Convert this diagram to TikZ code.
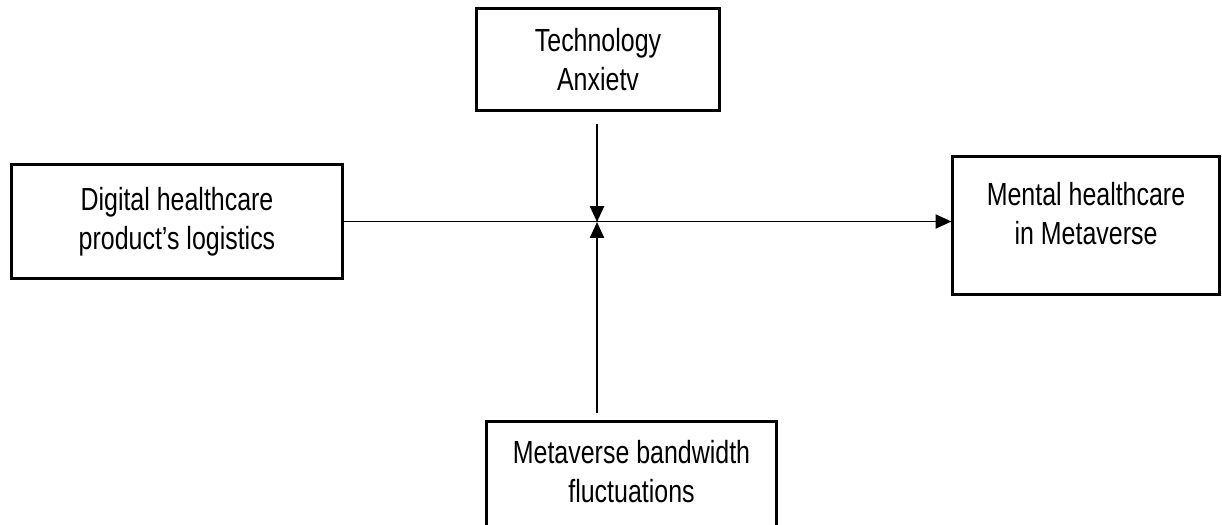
\documentclass[tikz,border=0pt]{standalone}
\usepackage{fontspec}
\setmainfont[FakeStretch=0.78]{Liberation Sans}
\usetikzlibrary{arrows.meta}
\def\boxrule{0.85pt}

\begin{document}
\begin{tikzpicture}[x=0.01cm, y=-0.01cm,
    varbox/.style={draw, line width=\boxrule, inner sep=0pt},
    varlbl/.style={align=center, font=\fontsize{9.1pt}{11.1pt}\selectfont},
    link/.style={line width=0.5pt, -{Triangle[width=4pt,length=4.5pt]}}]
  \useasboundingbox (0,0) rectangle (1222,524);
  % boxes
  \node[varbox, varlbl, minimum width=2.42cm, minimum height=1.01cm] (tech) at (598,59.5) {Technology\\Anxietv};
  \node[varbox, varlbl, minimum width=3.30cm, minimum height=1.13cm] (digital) at (177,221.5) {Digital healthcare\\product’s logistics};
  \node[varbox, minimum width=2.66cm, minimum height=1.37cm] (mental) at (1086,225.5) {};
  \node[varlbl] (mentaltxt) at (1086,214) {Mental healthcare\\in Metaverse};
  \node[varbox, minimum width=2.89cm, minimum height=1.20cm] (band) at (631.5,482) {};
  \node[varlbl] (bandtxt) at (631.5,472) {Metaverse bandwidth\\fluctuations};
  % paths
  \coordinate (mid) at (597,222);
  \draw[link] (digital.east) -- (digital.east -| mental.west);
  \draw[link, shorten <=0.12cm] (tech.south -| mid) -- (mid);
  \draw[link, shorten <=0.07cm] (band.north -| mid) -- (mid);
\end{tikzpicture}
\end{document}
